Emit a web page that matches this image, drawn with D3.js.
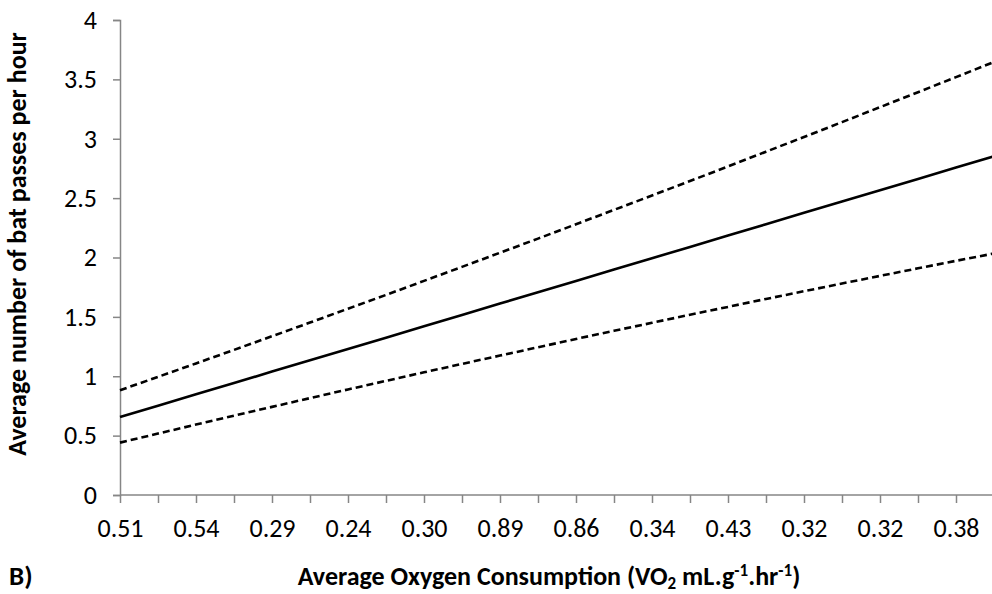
<!DOCTYPE html>
<html>
<head>
<meta charset="utf-8">
<script src="https://cdn.jsdelivr.net/npm/d3@7"></script>
<style>
  html, body { margin: 0; padding: 0; background: #fff; }
  svg { display: block; }
  text { font-family: Carlito, Lato, "Open Sans", sans-serif; fill: #000; }
</style>
</head>
<body>
<svg id="chart" width="992" height="594"></svg>
<script>
// Category labels (oxygen consumption), shown on every second category
const xLabels = ["0.51", "0.54", "0.29", "0.24", "0.30", "0.89", "0.86", "0.34", "0.43", "0.32", "0.32", "0.38"];
const yTicks = [0, 0.5, 1, 1.5, 2, 2.5, 3, 3.5, 4];

// Predicted bat passes per hour, one value per category
const fitted = [0.657, 0.752, 0.848, 0.943, 1.039, 1.134, 1.230, 1.325, 1.421, 1.516, 1.612, 1.707,
                1.803, 1.898, 1.994, 2.089, 2.185, 2.280, 2.376, 2.471, 2.567, 2.662, 2.758, 2.853];
// Upper and lower confidence limits
const upper = [0.882, 0.995, 1.108, 1.222, 1.337, 1.452, 1.569, 1.685, 1.803, 1.921, 2.040, 2.159,
               2.280, 2.401, 2.522, 2.644, 2.767, 2.891, 3.015, 3.140, 3.266, 3.392, 3.519, 3.647];
const lower = [0.441, 0.517, 0.593, 0.668, 0.742, 0.816, 0.889, 0.961, 1.033, 1.104, 1.174, 1.244,
               1.314, 1.383, 1.450, 1.518, 1.584, 1.651, 1.716, 1.781, 1.845, 1.909, 1.972, 2.034];

const svg = d3.select("#chart");
const plotLeft = 120, plotTop = 20, plotBottom = 495;
const step = 38;
const n = fitted.length;

const x = d3.scaleLinear().domain([0, n - 1]).range([plotLeft, plotLeft + step * (n - 1)]);
const y = d3.scaleLinear().domain([0, 4]).range([plotBottom, plotTop]);

const axisColor = "#868686";

// Y axis
const yAxis = d3.axisLeft(y).tickValues(yTicks).tickSize(7).tickPadding(16)
  .tickFormat(d => String(d));
const gy = svg.append("g").attr("transform", `translate(${plotLeft},0)`).call(yAxis);
gy.select(".domain").attr("stroke", axisColor).attr("stroke-width", 1.5);
gy.selectAll(".tick line").attr("stroke", axisColor).attr("stroke-width", 1.5);
gy.selectAll(".tick text").style("font-size", "26px").attr("fill", "#000");

// X axis: tick at every category, label on every second one
const xAxis = d3.axisBottom(x).tickValues(d3.range(n)).tickSize(8).tickPadding(16)
  .tickFormat(i => (i % 2 === 0 ? xLabels[i / 2] : ""));
const gx = svg.append("g").attr("transform", `translate(0,${plotBottom})`).call(xAxis);
gx.select(".domain").attr("stroke", axisColor).attr("stroke-width", 1.5)
  .attr("d", `M${plotLeft},0H992`);
gx.selectAll(".tick line").attr("stroke", axisColor).attr("stroke-width", 1.5);
gx.selectAll(".tick text").style("font-size", "26px").attr("fill", "#000");

// Lines
const line = d3.line().x((d, i) => x(i)).y(d => y(d));
const series = [
  { values: upper, dash: "7,4" },
  { values: lower, dash: "7,4" },
  { values: fitted, dash: null }
];
svg.append("g").selectAll("path").data(series).join("path")
  .attr("d", d => line(d.values))
  .attr("fill", "none")
  .attr("stroke", "#000")
  .attr("stroke-width", 2.6)
  .attr("stroke-dasharray", d => d.dash);

// Y axis title
svg.append("text")
  .attr("transform", "translate(26,244) rotate(-90)")
  .attr("text-anchor", "middle")
  .style("font-size", "26px").style("font-weight", "bold")
  .text("Average number of bat passes per hour");

// X axis title with sub/superscripts
const xt = svg.append("text")
  .attr("x", 549).attr("y", 585)
  .attr("text-anchor", "middle")
  .style("font-size", "26px").style("font-weight", "bold");
xt.append("tspan").text("Average Oxygen Consumption (VO");
xt.append("tspan").attr("dy", 4).style("font-size", "17px").text("2");
xt.append("tspan").attr("dy", -4).text(" mL.g");
xt.append("tspan").attr("dy", -9).style("font-size", "17px").text("-1");
xt.append("tspan").attr("dy", 9).text(".hr");
xt.append("tspan").attr("dy", -9).style("font-size", "17px").text("-1");
xt.append("tspan").attr("dy", 9).text(")");

// Panel letter
svg.append("text")
  .attr("x", 9).attr("y", 585)
  .style("font-size", "27px").style("font-weight", "bold")
  .text("B)");
</script>
</body>
</html>
